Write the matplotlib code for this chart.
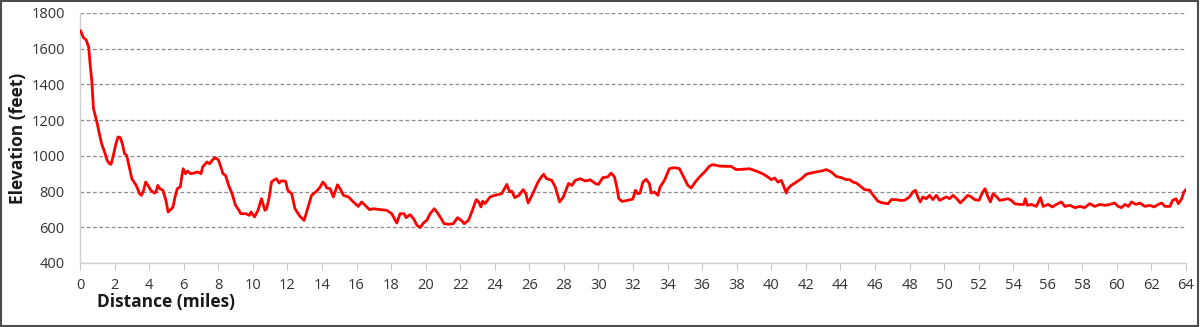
"""Elevation profile of the route (distance in miles vs elevation in feet).

Output:
  out.png - single panel line chart, ~1200x327 px.
"""

import matplotlib.pyplot as plt
from matplotlib.patches import Rectangle

plt.rcParams.update(
    {
        "font.family": ["Open Sans", "DejaVu Sans"],
        "font.size": 10.5,
    }
)

# Values.
distance_mi = [
    0.03, 0.2, 0.35, 0.5, 0.6, 0.68, 0.78, 0.88, 1.0, 1.1, 1.25, 1.42, 1.57, 1.7, 1.8,
    1.93, 2.08, 2.2, 2.33, 2.45, 2.58, 2.7, 2.85, 3.0, 3.25, 3.45, 3.55, 3.68, 3.8, 3.93,
    4.1, 4.3, 4.4, 4.5, 4.62, 4.8, 4.97, 5.1, 5.25, 5.38, 5.5, 5.63, 5.8, 5.9, 5.97,
    6.1, 6.22, 6.4, 6.6, 6.8, 7.0, 7.1, 7.35, 7.5, 7.65, 7.8, 8.0, 8.15, 8.27, 8.42,
    8.6, 8.8, 9.0, 9.2, 9.3, 9.6, 9.8, 9.9, 10.1, 10.3, 10.5, 10.7, 10.8, 10.95, 11.08,
    11.2, 11.37, 11.52, 11.65, 11.9, 12.02, 12.25, 12.44, 12.73, 12.97, 13.2, 13.4,
    13.7, 13.9, 14.05, 14.18, 14.28, 14.47, 14.66, 14.9, 15.05, 15.24, 15.53, 15.82,
    16.1, 16.3, 16.5, 16.75, 16.98, 17.37, 17.75, 18.04, 18.33, 18.52, 18.76, 18.87,
    19.1, 19.3, 19.5, 19.68, 19.87, 20.07, 20.26, 20.5, 20.65, 20.84, 21.07, 21.32,
    21.6, 21.85, 22.1, 22.23, 22.48, 22.67, 22.93, 23.07, 23.2, 23.3, 23.44, 23.73,
    24.0, 24.4, 24.7, 24.86, 24.98, 25.16, 25.4, 25.65, 25.8, 25.93, 26.2, 26.5, 26.7,
    26.83, 27.0, 27.3, 27.5, 27.75, 27.97, 28.27, 28.47, 28.66, 28.95, 29.24, 29.53,
    29.82, 30.0, 30.25, 30.54, 30.73, 30.93, 31.06, 31.18, 31.37, 31.7, 31.99, 32.14,
    32.28, 32.41, 32.57, 32.76, 32.95, 33.05, 33.24, 33.44, 33.57, 33.82, 34.1, 34.4,
    34.69, 34.98, 35.17, 35.37, 35.56, 35.85, 36.14, 36.43, 36.62, 37.0, 37.4, 37.68,
    37.97, 38.36, 38.74, 39.13, 39.5, 39.8, 40.0, 40.2, 40.39, 40.58, 40.7, 40.87,
    40.96, 41.16, 41.45, 41.74, 42.03, 42.3, 42.6, 42.9, 43.18, 43.47, 43.76, 44.05,
    44.34, 44.54, 44.73, 44.92, 45.1, 45.4, 45.7, 45.9, 46.18, 46.47, 46.76, 46.95,
    47.24, 47.42, 47.71, 48.0, 48.19, 48.35, 48.48, 48.62, 48.77, 48.97, 49.16, 49.35,
    49.55, 49.74, 49.93, 50.13, 50.32, 50.51, 50.74, 50.94, 51.19, 51.38, 51.57, 51.77,
    52.02, 52.21, 52.37, 52.54, 52.68, 52.83, 53.02, 53.22, 53.45, 53.7, 53.89, 54.09,
    54.38, 54.61, 54.7, 54.82, 55.05, 55.34, 55.58, 55.73, 56.02, 56.27, 56.5, 56.79,
    56.99, 57.28, 57.57, 57.86, 58.14, 58.43, 58.72, 59.01, 59.3, 59.59, 59.87, 60.08,
    60.27, 60.46, 60.66, 60.85, 61.1, 61.33, 61.62, 61.91, 62.14, 62.4, 62.59, 62.78,
    63.07, 63.23, 63.42, 63.56, 63.75, 63.88, 64.0,
]
elevation_ft = [
    1700, 1662, 1650, 1610, 1498, 1423, 1264, 1227, 1180, 1133, 1068, 1022, 975, 956, 953,
    1003, 1068, 1106, 1102, 1068, 1012, 1003, 938, 872, 835, 788, 779, 807, 853, 835,
    807, 792, 798, 835, 816, 807, 751, 686, 699, 714, 770, 816, 826, 891, 928,
    900, 915, 900, 904, 910, 900, 938, 966, 956, 975, 990, 979, 938, 900, 891,
    835, 788, 723, 695, 676, 676, 667, 686, 658, 695, 760, 695, 704, 770, 853,
    863, 872, 848, 860, 858, 807, 788, 704, 661, 639, 714, 779,
    803, 826, 853, 840, 820, 816, 770, 838, 816, 779, 770, 742,
    717, 742, 723, 699, 704, 699, 695, 676, 624, 676, 676, 654,
    671, 648, 611, 598, 624, 639, 676, 704, 686, 658, 620, 617,
    620, 654, 635, 620, 639, 686, 755, 742, 714, 746, 733, 770,
    779, 788, 840, 798, 803, 766, 779, 811, 788, 736, 788, 853, 882,
    897, 872, 863, 826, 742, 770, 845, 835, 863, 872, 859, 866,
    845, 840, 878, 882, 904, 882, 826, 760, 745, 751, 758, 807,
    788, 792, 853, 869, 844, 792, 798, 779, 826, 863, 928, 934,
    928, 872, 835, 820, 848, 882, 910, 943, 951, 943, 941, 941,
    923, 925, 928, 915, 900, 882, 867, 876, 853, 863, 835, 792,
    816, 835, 853, 872, 897, 904, 910, 915, 923, 910, 885, 878,
    867, 867, 853, 848, 835, 811, 807, 779, 745, 736, 732, 755,
    755, 751, 751, 770, 798, 807, 770, 742, 770, 760, 779, 755,
    779, 751, 760, 770, 760, 779, 760, 736, 760, 779, 770, 755,
    751, 792, 816, 770, 742, 788, 773, 751, 755, 760, 751, 732,
    728, 728, 760, 723, 728, 717, 766, 717, 728, 714, 728, 742,
    717, 723, 710, 717, 710, 732, 717, 728, 723, 728, 736, 717,
    710, 728, 717, 742, 728, 736, 717, 723, 714, 728, 736, 717,
    717, 751, 760, 732, 760, 798, 811,
]
x_ticks = list(range(0, 65, 2))
y_ticks = list(range(400, 1801, 200))

W, H = 1200, 327
fig = plt.figure(figsize=(W / 100, H / 100), dpi=100)
ax = fig.add_axes([80 / W, 1 - 263 / H, (1186 - 80) / W, (263 - 13) / H])

ax.plot(distance_mi, elevation_ft, color="#ff0000", linewidth=2.0, zorder=3)

ax.set_xlim(0, 64)
ax.set_ylim(400, 1800)
ax.set_xticks(x_ticks)
ax.set_yticks(y_ticks)
ax.tick_params(axis="x", length=5, color="#c8c8c8", labelcolor="#333333", pad=6)
ax.tick_params(axis="y", length=0, labelcolor="#333333", pad=11)
ax.grid(True, axis="y", color="#8c8c8c", linestyle=(0, (3, 2)), linewidth=0.9)
ax.set_axisbelow(True)

for side in ("top", "right"):
    ax.spines[side].set_visible(False)
for side in ("left", "bottom"):
    ax.spines[side].set_color("#d0d0d0")
    ax.spines[side].set_linewidth(1.0)

# Axis titles sit where the spreadsheet put them, not centred on the axes.
fig.text(97 / W, 1 - 307 / H, "Distance (miles)", ha="left", va="baseline",
         fontsize=12.5, fontweight="bold", color="#1a1a1a")
fig.text(18 / W, 1 - 138 / H, "Elevation (feet)", ha="center", va="center",
         rotation=90, fontsize=12.5, fontweight="bold", color="#1a1a1a")

# Thin frame round the whole picture.
fig.patches.append(Rectangle((0.001, 0.003), 0.997, 0.993, transform=fig.transFigure,
                             fill=False, edgecolor="#4d4d4d", linewidth=1.5))

fig.savefig("out.png", dpi=100)
plt.close(fig)
